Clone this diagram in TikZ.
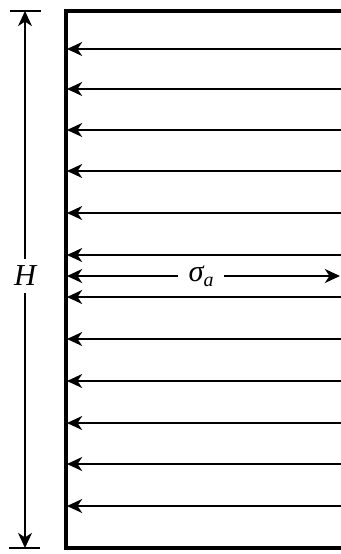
\documentclass[tikz,border=0pt]{standalone}
\usepackage{fontspec}
\setmainfont{Liberation Serif}
\usetikzlibrary{arrows.meta}
\begin{document}
\begin{tikzpicture}[x=0.03cm, y=-0.03cm,
    wall/.style={line width=3pt},
    load/.style={line width=1.3pt, -{Stealth[length=13pt,width=12pt,inset=4pt]}},
    dimline/.style={line width=1pt},
    lbl/.style={font=\fontsize{26}{30}\selectfont\itshape}]
    \useasboundingbox (0,0) rectangle (341,554);
    % wall outline, open on the right
    \coordinate (tr) at (341,11);
    \coordinate (tl) at (66,11);
    \coordinate (bl) at (66,548);
    \coordinate (br) at (341,548);
    \draw[wall] (tr) -- (tl) -- (bl) -- (br);
    % pressure arrows
    \foreach \y [count=\i] in {49,89,130,171,213,255,297,339,381,423,464,506} {
      \coordinate (p\i) at (341,\y);
      \coordinate (q\i) at (67,\y);
      \draw[load] (p\i) -- (q\i);
    }
    % sigma_a
    \node[lbl, inner xsep=9pt] (sig) at (201,276) {σ\raisebox{-0.35ex}{\fontsize{17}{20}\selectfont a}};
    \coordinate (sl) at (67,276);
    \coordinate (sr) at (340,276);
    \draw[load] (sig) -- (sl);
    \draw[load] (sig) -- (sr);
    % height H
    \coordinate (ht) at (25,11);
    \coordinate (hb) at (25,548);
    \node[lbl, inner ysep=6pt] (H) at (25,276) {H};
    \draw[dimline] (10,11) -- (41,11);
    \draw[dimline] (9,548) -- (40,548);
    \draw[load, line width=1pt] (H) -- (ht);
    \draw[load, line width=1pt] (H) -- (hb);
\end{tikzpicture}
\end{document}
